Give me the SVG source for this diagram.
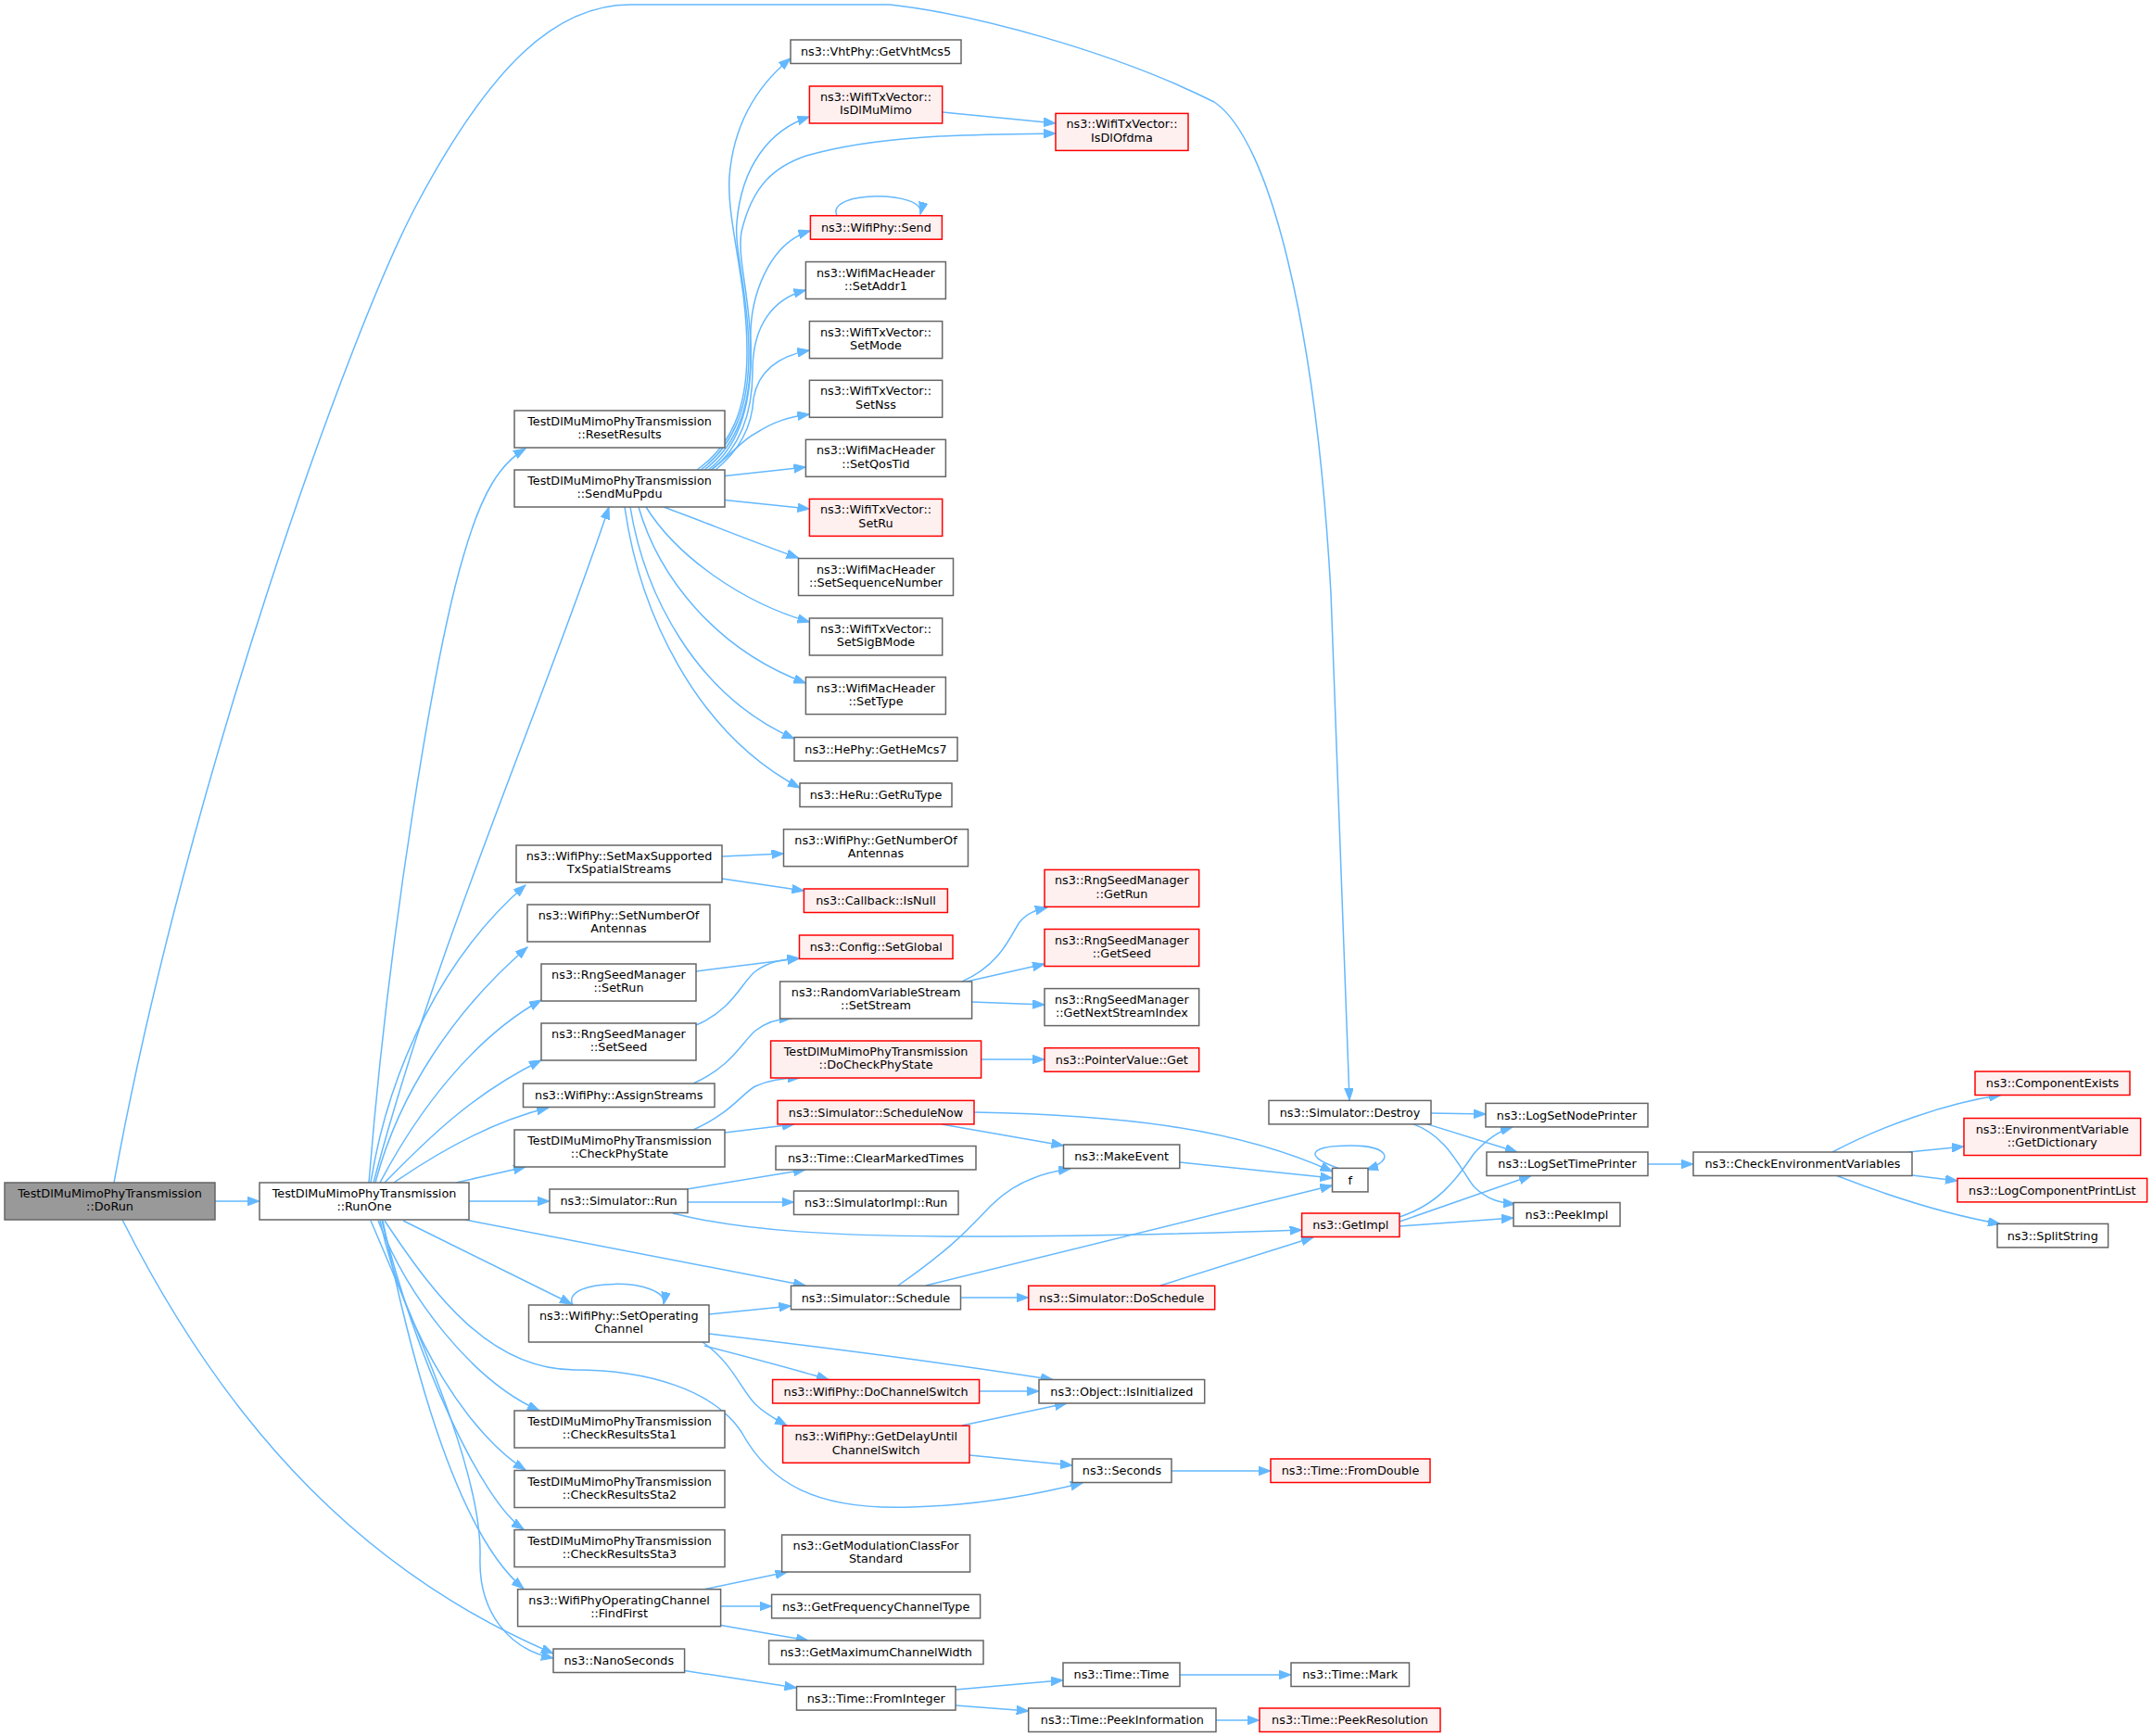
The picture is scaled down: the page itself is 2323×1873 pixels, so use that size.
<svg xmlns="http://www.w3.org/2000/svg" width="2323" height="1873" viewBox="0 0 2323 1873">
<style>
rect{fill:#ffffff;stroke:#666666;stroke-width:1.5}
.r rect{fill:#fff0f0;stroke:#ff0000}
.g rect{fill:#999999}
text{font-family:"DejaVu Sans","Liberation Sans",sans-serif;font-size:12.8px;text-anchor:middle;fill:#000000}
#edges path{fill:none;stroke:#63b8ff;stroke-width:1.5;marker-end:url(#a)}
</style>
<defs>
<marker id="a" markerUnits="userSpaceOnUse" markerWidth="14" markerHeight="10" refX="13" refY="4.8" orient="auto" viewBox="0 0 14 10">
<path d="M0,0 L13,4.8 L0,9.6 z" fill="#63b8ff" stroke="#63b8ff" stroke-width="1"/>
</marker>
</defs>
<rect x="0" y="0" width="2323" height="1873" style="fill:#ffffff;stroke:none"/>
<g id="edges">
<path d="M232,1296 L280,1296"/>
<path d="M123,1276 C200,850 380,350 450,220 C530,70 600,5 680,5 L960,5 C1050,15 1200,55 1310,110 C1370,150 1420,350 1436,640 L1456,1187"/>
<path d="M132,1316 C250,1550 400,1700 597,1784"/>
<path d="M398,1276 C420,1000 470,700 500,600 C520,530 540,500 567,484"/>
<path d="M403,1276 C470,1020 590,750 657,547"/>
<path d="M400,1276 C420,1150 480,1030 567,955"/>
<path d="M405,1276 C430,1180 490,1090 569,1022"/>
<path d="M410,1276 C450,1200 510,1120 584,1079"/>
<path d="M415,1276 C460,1230 510,1180 584,1144"/>
<path d="M425,1276 C470,1245 530,1210 592,1195"/>
<path d="M492,1276 L567,1259"/>
<path d="M506,1296 L593,1296"/>
<path d="M502,1316 L869,1387"/>
<path d="M435,1317 L617,1407"/>
<path d="M408,1317 C440,1400 510,1490 582,1522"/>
<path d="M410,1317 C440,1450 510,1550 567,1586"/>
<path d="M412,1317 C450,1470 520,1620 565,1650"/>
<path d="M413,1317 C450,1500 500,1660 565,1714"/>
<path d="M400,1317 C470,1480 520,1600 518,1680 C516,1740 550,1780 597,1789"/>
<path d="M415,1317 C470,1400 530,1478 620,1478 C700,1478 770,1500 800,1545 C830,1600 880,1630 984,1626 C1060,1624 1120,1612 1168,1600"/>
<path d="M618,1408 C603,1378 722,1378 716,1407"/>
<path d="M765,1418 L853.5,1409"/>
<path d="M765,1439 C900,1455 1050,1475 1136,1488.5"/>
<path d="M760,1452 C810,1465 860,1478 894,1488.5"/>
<path d="M758,1448 C790,1470 800,1500 815,1515 C825,1525 838,1532 849,1538"/>
<path d="M1056.5,1501 L1121,1501"/>
<path d="M1038,1538 L1151,1514"/>
<path d="M1046,1570 L1157,1581"/>
<path d="M1264,1587 L1371,1587"/>
<path d="M969,1387 C1030,1345 1050,1320 1070,1300 C1095,1275 1125,1265 1155,1261"/>
<path d="M999,1387 L1437.5,1279"/>
<path d="M1036.6,1400 L1109.7,1400"/>
<path d="M1252,1387 L1417,1335"/>
<path d="M741,1283 L869,1262"/>
<path d="M742,1297 L856.5,1297"/>
<path d="M726,1309 C800,1328 900,1334 1050,1334 C1200,1334 1320,1330 1404.6,1327"/>
<path d="M1273,1254 L1437.5,1271"/>
<path d="M1016,1212.9 L1147.5,1236"/>
<path d="M1051,1200 C1200,1203 1330,1215 1437.5,1264"/>
<path d="M1444,1260.4 C1400,1245 1420,1236 1457,1236 C1500,1236 1505,1252 1474,1262"/>
<path d="M1510,1313 C1550,1300 1570,1275 1590,1245 C1605,1228 1618,1220 1632,1216"/>
<path d="M1510,1318 L1652,1268.5"/>
<path d="M1510,1323 L1633,1314"/>
<path d="M1544,1201 L1603,1202"/>
<path d="M1540,1212.9 L1637,1243"/>
<path d="M1525,1212.9 C1560,1225 1575,1260 1590,1280 C1605,1295 1620,1298 1635,1299"/>
<path d="M1778,1256 L1827,1256"/>
<path d="M1977,1243 C2030,1215 2100,1190 2159,1181.5"/>
<path d="M2059,1243 L2119,1237"/>
<path d="M2063,1268 L2112,1274"/>
<path d="M1982,1268.5 C2050,1295 2110,1312 2158,1320.4"/>
<path d="M779,924 L845.5,921"/>
<path d="M779,948 L867.4,961"/>
<path d="M1038,1059 C1080,1040 1090,1010 1100,995 C1108,985 1118,982 1130,979"/>
<path d="M1043,1059 L1127,1040"/>
<path d="M1048.6,1081 L1127,1084"/>
<path d="M1058.6,1143 L1127,1143"/>
<path d="M751,1048 L862.5,1034"/>
<path d="M751,1106 C790,1090 800,1060 815,1048 C830,1037 845,1035 862.5,1034"/>
<path d="M748,1169 C790,1150 800,1125 815,1112 C828,1102 840,1099 854,1098.5"/>
<path d="M748,1219 C790,1200 800,1180 815,1172 C830,1165 845,1163 863,1163"/>
<path d="M782,1222 L857,1212.9"/>
<path d="M760,1714.7 L849.5,1696"/>
<path d="M777.6,1733 L832.6,1733"/>
<path d="M777.6,1753.5 L872,1770"/>
<path d="M738.6,1802.5 L859.5,1821"/>
<path d="M1031,1823 L1147,1812.7"/>
<path d="M1031,1840 L1109.7,1846"/>
<path d="M1273,1807 L1393,1807"/>
<path d="M1312,1856 L1359,1856"/>
<path d="M1016.7,121 L1139,133"/>
<path d="M903,232.7 C890,205 1000,205 993,231"/>
<path d="M752,507 C790,480 806,440 806,380 C806,300 784,240 787,190 C792,130 820,90 853,63"/>
<path d="M756,507 C792,480 808,440 808,380 C808,320 792,270 795,240 C800,180 830,140 873.4,126"/>
<path d="M760,507 C795,480 810,440 810,380 C810,320 795,280 800,250 C812,200 835,180 870,168 C950,145 1050,145 1139,144"/>
<path d="M764,507 C800,480 812,430 810,370 C808,320 830,262 874.4,249"/>
<path d="M768,507 C802,480 812,440 812,400 C812,350 835,322 869.4,313"/>
<path d="M772,507 C805,480 812,450 813,430 C818,400 840,384 873.4,378"/>
<path d="M767,507 C790,490 800,475 816,467 C835,455 850,450 873.4,447"/>
<path d="M782,513.5 L869.4,504"/>
<path d="M782,539.6 L873.4,549"/>
<path d="M716,547 C760,563 800,580 861.5,602"/>
<path d="M697,547 C730,600 800,650 873.4,671"/>
<path d="M689,547 C710,620 770,700 869.4,737"/>
<path d="M680,547 C695,640 750,750 857,797"/>
<path d="M674,547 C690,660 750,790 863,850"/>
</g>
<g id="n1" class="g"><rect x="5" y="1276" width="227" height="40"/><text x="118.5" y="1292">TestDlMuMimoPhyTransmission</text><text x="118.5" y="1306.3">::DoRun</text></g>
<g id="n2"><rect x="280" y="1276" width="226" height="40"/><text x="393" y="1292">TestDlMuMimoPhyTransmission</text><text x="393" y="1306.3">::RunOne</text></g>
<g id="n3"><rect x="555" y="443" width="227" height="40"/><text x="668.5" y="459">TestDlMuMimoPhyTransmission</text><text x="668.5" y="473.3">::ResetResults</text></g>
<g id="n4"><rect x="555" y="507" width="227" height="40"/><text x="668.5" y="523">TestDlMuMimoPhyTransmission</text><text x="668.5" y="537.3">::SendMuPpdu</text></g>
<g id="n5"><rect x="557" y="912" width="222" height="40"/><text x="668" y="928">ns3::WifiPhy::SetMaxSupported</text><text x="668" y="942.3">TxSpatialStreams</text></g>
<g id="n6"><rect x="569" y="976" width="197" height="40"/><text x="667.5" y="992">ns3::WifiPhy::SetNumberOf</text><text x="667.5" y="1006.3">Antennas</text></g>
<g id="n7"><rect x="584" y="1040" width="167" height="40"/><text x="667.5" y="1056">ns3::RngSeedManager</text><text x="667.5" y="1070.3">::SetRun</text></g>
<g id="n8"><rect x="584" y="1104" width="167" height="40"/><text x="667.5" y="1120">ns3::RngSeedManager</text><text x="667.5" y="1134.3">::SetSeed</text></g>
<g id="n9"><rect x="564.5" y="1169" width="206.5" height="25.5"/><text x="667.75" y="1186.3">ns3::WifiPhy::AssignStreams</text></g>
<g id="n10"><rect x="555" y="1219" width="227" height="40"/><text x="668.5" y="1235">TestDlMuMimoPhyTransmission</text><text x="668.5" y="1249.3">::CheckPhyState</text></g>
<g id="n11"><rect x="593" y="1283" width="149" height="25.5"/><text x="667.5" y="1300.3">ns3::Simulator::Run</text></g>
<g id="n12"><rect x="570.5" y="1408" width="194.5" height="40"/><text x="667.75" y="1424">ns3::WifiPhy::SetOperating</text><text x="667.75" y="1438.3">Channel</text></g>
<g id="n13"><rect x="555" y="1522" width="227" height="40"/><text x="668.5" y="1538">TestDlMuMimoPhyTransmission</text><text x="668.5" y="1552.3">::CheckResultsSta1</text></g>
<g id="n14"><rect x="555" y="1586.5" width="227" height="40"/><text x="668.5" y="1602.5">TestDlMuMimoPhyTransmission</text><text x="668.5" y="1616.8">::CheckResultsSta2</text></g>
<g id="n15"><rect x="555" y="1650.6" width="227" height="40"/><text x="668.5" y="1666.6">TestDlMuMimoPhyTransmission</text><text x="668.5" y="1680.9">::CheckResultsSta3</text></g>
<g id="n16"><rect x="558.6" y="1714.7" width="219" height="40"/><text x="668.1" y="1730.7">ns3::WifiPhyOperatingChannel</text><text x="668.1" y="1745">::FindFirst</text></g>
<g id="n17"><rect x="597" y="1779" width="141.6" height="25.5"/><text x="667.8" y="1796.3">ns3::NanoSeconds</text></g>
<g id="n18"><rect x="853" y="43" width="184" height="25.5"/><text x="945" y="60.3">ns3::VhtPhy::GetVhtMcs5</text></g>
<g id="n19" class="r"><rect x="873.4" y="93" width="143.3" height="40"/><text x="945" y="109">ns3::WifiTxVector::</text><text x="945" y="123.3">IsDlMuMimo</text></g>
<g id="n20" class="r"><rect x="1139" y="122.4" width="143" height="40"/><text x="1210.5" y="138.4">ns3::WifiTxVector::</text><text x="1210.5" y="152.7">IsDlOfdma</text></g>
<g id="n21" class="r"><rect x="874.4" y="232.7" width="142" height="25.5"/><text x="945.4" y="250">ns3::WifiPhy::Send</text></g>
<g id="n22"><rect x="869.4" y="282.5" width="151" height="40"/><text x="945" y="298.5">ns3::WifiMacHeader</text><text x="945" y="312.8">::SetAddr1</text></g>
<g id="n23"><rect x="873.4" y="346.6" width="143.3" height="40"/><text x="945" y="362.6">ns3::WifiTxVector::</text><text x="945" y="376.9">SetMode</text></g>
<g id="n24"><rect x="873.4" y="410.3" width="143.3" height="40"/><text x="945" y="426.3">ns3::WifiTxVector::</text><text x="945" y="440.6">SetNss</text></g>
<g id="n25"><rect x="869.4" y="474.3" width="151" height="40"/><text x="945" y="490.3">ns3::WifiMacHeader</text><text x="945" y="504.6">::SetQosTid</text></g>
<g id="n26" class="r"><rect x="873.4" y="538.4" width="143.3" height="40"/><text x="945" y="554.4">ns3::WifiTxVector::</text><text x="945" y="568.7">SetRu</text></g>
<g id="n27"><rect x="861.5" y="602.5" width="167" height="40"/><text x="945" y="618.5">ns3::WifiMacHeader</text><text x="945" y="632.8">::SetSequenceNumber</text></g>
<g id="n28"><rect x="873.4" y="667" width="143.3" height="40"/><text x="945" y="683">ns3::WifiTxVector::</text><text x="945" y="697.3">SetSigBMode</text></g>
<g id="n29"><rect x="869.4" y="730.6" width="151" height="40"/><text x="945" y="746.6">ns3::WifiMacHeader</text><text x="945" y="760.9">::SetType</text></g>
<g id="n30"><rect x="857" y="795.5" width="176" height="25.5"/><text x="945" y="812.8">ns3::HePhy::GetHeMcs7</text></g>
<g id="n31"><rect x="863" y="845" width="164" height="25.5"/><text x="945" y="862.3">ns3::HeRu::GetRuType</text></g>
<g id="n32"><rect x="845.5" y="894.7" width="199" height="40"/><text x="945" y="910.7">ns3::WifiPhy::GetNumberOf</text><text x="945" y="925">Antennas</text></g>
<g id="n33" class="r"><rect x="867.4" y="959" width="155" height="25.5"/><text x="945" y="976.3">ns3::Callback::IsNull</text></g>
<g id="n34" class="r"><rect x="862.5" y="1009" width="165.5" height="25.5"/><text x="945.25" y="1026.3">ns3::Config::SetGlobal</text></g>
<g id="n35"><rect x="841.6" y="1059" width="207" height="40"/><text x="945.1" y="1075">ns3::RandomVariableStream</text><text x="945.1" y="1089.3">::SetStream</text></g>
<g id="n36" class="r"><rect x="831.6" y="1123" width="227" height="40"/><text x="945.1" y="1139">TestDlMuMimoPhyTransmission</text><text x="945.1" y="1153.3">::DoCheckPhyState</text></g>
<g id="n37" class="r"><rect x="839" y="1187.4" width="212" height="25.5"/><text x="945" y="1204.7">ns3::Simulator::ScheduleNow</text></g>
<g id="n38"><rect x="837" y="1236.5" width="216" height="25.5"/><text x="945" y="1253.8">ns3::Time::ClearMarkedTimes</text></g>
<g id="n39"><rect x="856.5" y="1285" width="177.5" height="25.5"/><text x="945.25" y="1302.3">ns3::SimulatorImpl::Run</text></g>
<g id="n40"><rect x="853.5" y="1387.3" width="183" height="25.5"/><text x="945" y="1404.6">ns3::Simulator::Schedule</text></g>
<g id="n41" class="r"><rect x="1109.7" y="1387.3" width="201" height="25.5"/><text x="1210.2" y="1404.6">ns3::Simulator::DoSchedule</text></g>
<g id="n42" class="r"><rect x="833.6" y="1488.5" width="223" height="25.5"/><text x="945.1" y="1505.8">ns3::WifiPhy::DoChannelSwitch</text></g>
<g id="n43"><rect x="1121" y="1488.5" width="178.7" height="25.5"/><text x="1210.35" y="1505.8">ns3::Object::IsInitialized</text></g>
<g id="n44" class="r"><rect x="844.6" y="1538.3" width="201.4" height="40"/><text x="945.3" y="1554.3">ns3::WifiPhy::GetDelayUntil</text><text x="945.3" y="1568.6">ChannelSwitch</text></g>
<g id="n45"><rect x="1157" y="1574" width="107" height="25.5"/><text x="1210.5" y="1591.3">ns3::Seconds</text></g>
<g id="n46" class="r"><rect x="1371" y="1574" width="172" height="25.5"/><text x="1457" y="1591.3">ns3::Time::FromDouble</text></g>
<g id="n47"><rect x="843.6" y="1656" width="203" height="40"/><text x="945.1" y="1672">ns3::GetModulationClassFor</text><text x="945.1" y="1686.3">Standard</text></g>
<g id="n48"><rect x="832.6" y="1720.4" width="225" height="25.5"/><text x="945.1" y="1737.7">ns3::GetFrequencyChannelType</text></g>
<g id="n49"><rect x="829.6" y="1770" width="231.4" height="25.5"/><text x="945.3" y="1787.3">ns3::GetMaximumChannelWidth</text></g>
<g id="n50"><rect x="859.5" y="1819.6" width="171.5" height="25.5"/><text x="945.25" y="1836.9">ns3::Time::FromInteger</text></g>
<g id="n51"><rect x="1147" y="1794" width="126" height="25.5"/><text x="1210" y="1811.3">ns3::Time::Time</text></g>
<g id="n52"><rect x="1393" y="1794" width="127.5" height="25.5"/><text x="1456.75" y="1811.3">ns3::Time::Mark</text></g>
<g id="n53"><rect x="1109.7" y="1843" width="202.3" height="25.5"/><text x="1210.85" y="1860.3">ns3::Time::PeekInformation</text></g>
<g id="n54" class="r"><rect x="1359" y="1843" width="195" height="25.5"/><text x="1456.5" y="1860.3">ns3::Time::PeekResolution</text></g>
<g id="n55" class="r"><rect x="1127" y="938.4" width="166.7" height="40"/><text x="1210.35" y="954.4">ns3::RngSeedManager</text><text x="1210.35" y="968.7">::GetRun</text></g>
<g id="n56" class="r"><rect x="1127" y="1002.5" width="166.7" height="40"/><text x="1210.35" y="1018.5">ns3::RngSeedManager</text><text x="1210.35" y="1032.8">::GetSeed</text></g>
<g id="n57"><rect x="1127" y="1066.6" width="166.7" height="40"/><text x="1210.35" y="1082.6">ns3::RngSeedManager</text><text x="1210.35" y="1096.9">::GetNextStreamIndex</text></g>
<g id="n58" class="r"><rect x="1127" y="1130.7" width="166.7" height="25.5"/><text x="1210.35" y="1148">ns3::PointerValue::Get</text></g>
<g id="n59"><rect x="1147.5" y="1235" width="125.3" height="25.5"/><text x="1210.15" y="1252.3">ns3::MakeEvent</text></g>
<g id="n60"><rect x="1437.5" y="1260.4" width="38.5" height="25.5"/><text x="1456.75" y="1277.7">f</text></g>
<g id="n61" class="r"><rect x="1404.6" y="1309" width="105.4" height="25.5"/><text x="1457.3" y="1326.3">ns3::GetImpl</text></g>
<g id="n62"><rect x="1369" y="1187.4" width="175" height="25.5"/><text x="1456.5" y="1204.7">ns3::Simulator::Destroy</text></g>
<g id="n63"><rect x="1603" y="1190.4" width="175" height="25.5"/><text x="1690.5" y="1207.7">ns3::LogSetNodePrinter</text></g>
<g id="n64"><rect x="1604" y="1243" width="174" height="25.5"/><text x="1691" y="1260.3">ns3::LogSetTimePrinter</text></g>
<g id="n65"><rect x="1633" y="1297.5" width="115" height="25.5"/><text x="1690.5" y="1314.8">ns3::PeekImpl</text></g>
<g id="n66"><rect x="1827" y="1243" width="236" height="25.5"/><text x="1945" y="1260.3">ns3::CheckEnvironmentVariables</text></g>
<g id="n67" class="r"><rect x="2131" y="1156" width="167" height="25.5"/><text x="2214.5" y="1173.3">ns3::ComponentExists</text></g>
<g id="n68" class="r"><rect x="2119" y="1206.5" width="190.6" height="40"/><text x="2214.3" y="1222.5">ns3::EnvironmentVariable</text><text x="2214.3" y="1236.8">::GetDictionary</text></g>
<g id="n69" class="r"><rect x="2112" y="1271.4" width="204.6" height="25.5"/><text x="2214.3" y="1288.7">ns3::LogComponentPrintList</text></g>
<g id="n70"><rect x="2155" y="1320.4" width="119.6" height="25.5"/><text x="2214.8" y="1337.7">ns3::SplitString</text></g>
</svg>
